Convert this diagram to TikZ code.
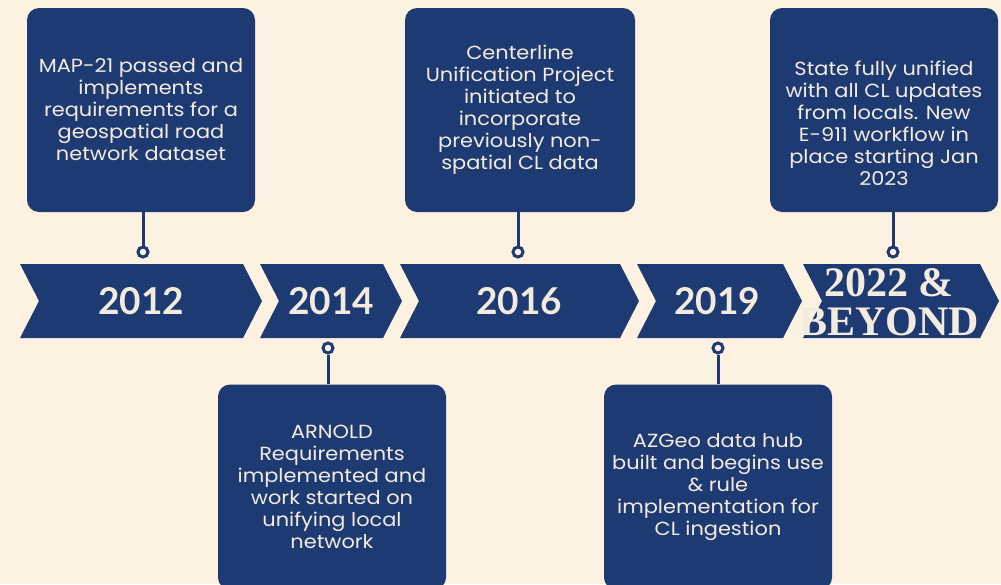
\documentclass[tikz,border=0pt]{standalone}
\usepackage{fontspec}
\setmainfont{Poppins}[FakeStretch=1.1]
\newfontfamily\yearfont{Lato}
\newfontfamily\beyondfont{Liberation Serif}
\definecolor{navy}{HTML}{1E3A72}
\definecolor{paper}{HTML}{FDF1E1}
\definecolor{ink}{HTML}{F3ECDE}
\newcommand{\tlChevron}[2]{\fill [navy] (#1,264) -- (#2,264) -- (#2+19,301) -- (#2,338) -- (#1,338) -- (#1+19,301) -- cycle;}

\begin{document}
\begin{tikzpicture}[x=1pt, y=-1pt,
    event/.style={fill=navy, text=ink, rounded corners=12pt, minimum width=228pt, minimum height=204pt, align=center, font=\fontsize{19}{22}\selectfont},
    year/.style={text=ink, font=\yearfont\bfseries\fontsize{37}{40}\selectfont},
    dot/.style={circle, draw=navy, line width=3pt, fill=paper, inner sep=0pt, minimum size=10pt},
    stem/.style={navy, line width=3pt}]
    \useasboundingbox (0,0) rectangle (1001,584);
    \fill [paper] (0,0) rectangle (1001,584);

    \tlChevron{20}{243}
    \tlChevron{260}{383}
    \tlChevron{400}{620}
    \tlChevron{637}{783}
    \tlChevron{803}{980}

    \node [year] (y2012) at (141,301) {2012};
    \node [year] (y2014) at (331,301) {2014};
    \node [year] (y2016) at (519,301) {2016};
    \node [year] (y2019) at (717,301) {2019};
    \node [year] [align=center] [font=\beyondfont\bfseries\fontsize{42}{39}\selectfont] (y2022) at (889,302) {2022 \&\\BEYOND};

    \node [event] (e2012) at (141,110) {MAP-21 passed and\\ implements\\ requirements for a\\ geospatial road\\ network dataset};
    \node [event] [minimum width=230pt] (e2016) at (520,110) {Centerline\\ Unification Project\\ initiated to\\ incorporate\\ previously non-\\ spatial CL data};
    \node [event] (e2022) at (884,110) {};
    \node [text=ink] [align=center] [font=\fontsize{19}{22}\selectfont] [yshift=-13] (t2022) at (e2022) {State fully unified\\ with all CL updates\\ from locals. New\\ E-911 workflow in\\ place starting Jan\\ 2023};
    \node [event] [minimum height=205pt] (e2014) at (332,487) {ARNOLD\\ Requirements\\ implemented and\\ work started on\\ unifying local\\ network};
    \node [event] [minimum height=205pt] (e2019) at (718,487) {AZGeo data hub\\ built and begins use\\ \& rule\\ implementation for\\ CL ingestion};

    \node [dot] (d2012) at (143,252) {};
    \node [dot] (d2014) at (328,348) {};
    \node [dot] (d2016) at (518,252) {};
    \node [dot] (d2019) at (718,348) {};
    \node [dot] (d2022) at (893,252) {};

    \draw [stem] (e2012.south -| d2012) -- (d2012);
    \draw [stem] (e2016.south -| d2016) -- (d2016);
    \draw [stem] (e2022.south -| d2022) -- (d2022);
    \draw [stem] (d2014) -- (e2014.north -| d2014);
    \draw [stem] (d2019) -- (e2019.north -| d2019);
\end{tikzpicture}
\end{document}
